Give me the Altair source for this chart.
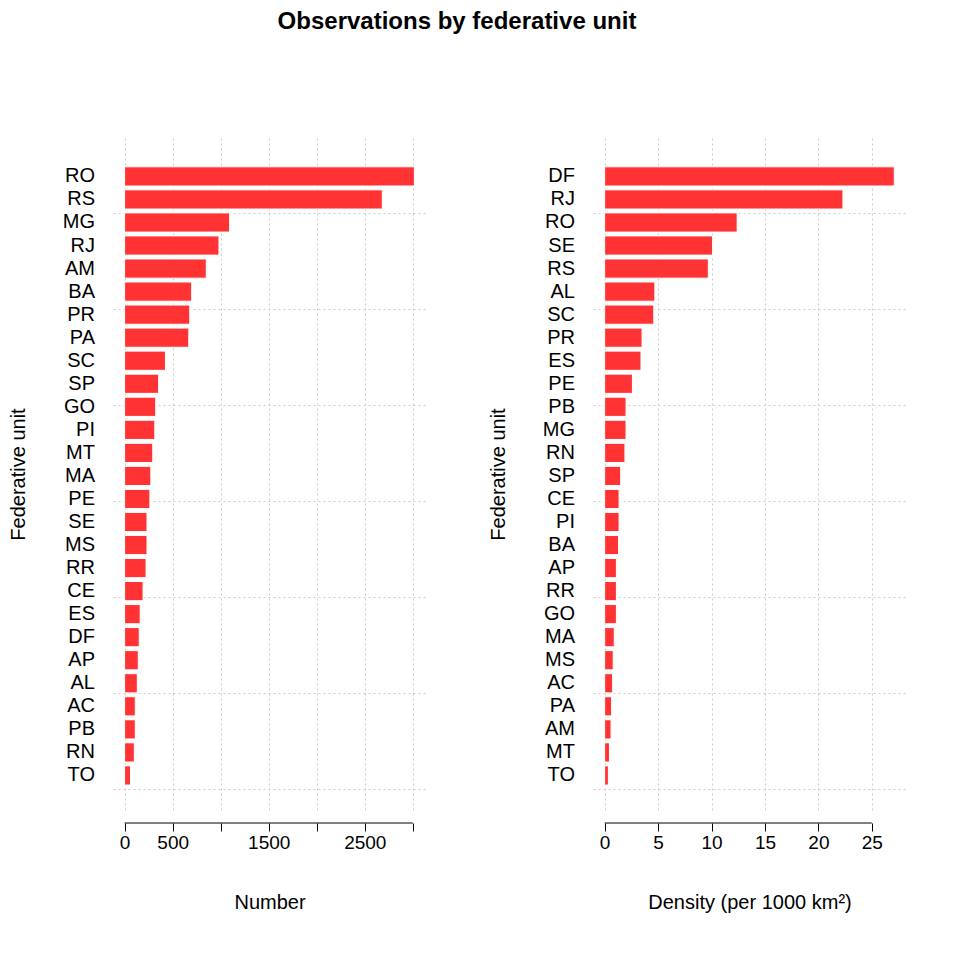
import pandas as pd
import altair as alt

# left panel: number of observations (bottom to top, as barplot draws them)
units_n = ["TO", "RN", "PB", "AC", "AL", "AP", "DF", "ES", "CE", "RR", "MS", "SE", "PE", "MA",
           "MT", "PI", "GO", "SP", "SC", "PA", "PR", "BA", "AM", "RJ", "MG", "RS", "RO"]
number = [61, 101, 111, 111, 132, 142, 152, 162, 192, 223, 233, 233, 263, 273,
          293, 314, 324, 354, 425, 668, 678, 698, 850, 982, 1093, 2682, 3016]

# right panel: density per 1000 km2
units_d = ["TO", "MT", "AM", "PA", "AC", "MS", "MA", "GO", "RR", "AP", "BA", "PI", "CE", "SP",
           "RN", "MG", "PB", "PE", "ES", "PR", "SC", "AL", "RS", "SE", "RO", "RJ", "DF"]
density = [0.35, 0.45, 0.6, 0.65, 0.75, 0.8, 0.9, 1.1, 1.1, 1.1, 1.3, 1.35, 1.35, 1.5,
           1.9, 2.0, 2.0, 2.6, 3.4, 3.5, 4.6, 4.7, 9.7, 10.1, 12.4, 22.3, 27.1]

FONT = "Liberation Sans"
W, H = 313, 672


def panel(units, values, xdom, ticks, shown, xtitle):
    df = pd.DataFrame({"unit": units, "value": values})
    df["pos"] = [0.7 + 1.2 * i for i in range(len(df))]
    df["lo"] = df["pos"] - 0.5
    df["hi"] = df["pos"] + 0.5
    df["zero"] = 0
    yscale = alt.Scale(domain=[-1.1, 33.9], nice=False, zero=False)
    xscale = alt.Scale(domain=xdom, nice=False, zero=False)
    hidden = " || ".join(f"datum.value == {t}" for t in ticks if t not in shown) or "false"
    base = alt.Chart(df)
    bars = base.mark_bar(color="#FF3333", stroke="white", strokeWidth=1).encode(
        x=alt.X("value:Q", scale=xscale, title=xtitle,
                axis=alt.Axis(values=ticks, grid=True, gridDash=[2, 3], gridColor="#cccccc",
                              domain=False, tickColor="black", tickSize=8, offset=13,
                              format="d",
                              labelExpr=f"({hidden}) ? '' : datum.label",
                              labelFontSize=19, titleFontSize=20, titlePadding=40,
                              labelColor="black", titleColor="black", titleFontWeight="normal",
                              labelFont=FONT, titleFont=FONT)),
        x2="zero:Q",
        y=alt.Y("lo:Q", scale=yscale, title="Federative unit",
                axis=alt.Axis(values=[0, 5, 10, 15, 20, 25, 30], grid=True, gridDash=[2, 3],
                              gridColor="#cccccc", labels=False, ticks=False, domain=False,
                              titleFontSize=20, titlePadding=85, titleColor="black",
                              titleFontWeight="normal", titleFont=FONT)),
        y2="hi:Q",
    )
    labels = base.mark_text(align="right", baseline="middle", fontSize=20, font=FONT,
                            color="black", dx=-18).encode(
        x=alt.value(0), y=alt.Y("pos:Q", scale=yscale), text="unit:N")
    axis_line = alt.Chart(pd.DataFrame({"a": [ticks[0]], "b": [ticks[-1]]})).mark_rule(
        color="black").encode(x=alt.X("a:Q", scale=xscale), x2="b:Q", y=alt.value(H + 13))
    return alt.layer(bars, labels, axis_line).properties(width=W, height=H)


left = panel(units_n, number, [-121, 3137], [0, 500, 1000, 1500, 2000, 2500, 3000],
             [0, 500, 1500, 2500], "Number")
right = panel(units_d, density, [-1.09, 28.2], [0, 5, 10, 15, 20, 25],
              [0, 5, 10, 15, 20, 25], "Density (per 1000 km²)")

chart = alt.hconcat(left, right, spacing=62).properties(
    title=alt.TitleParams("Observations by federative unit", fontSize=24, font=FONT,
                          fontWeight="bold", anchor="middle", offset=104),
    padding={"left": 0, "top": 2, "right": 5, "bottom": 5},
).configure_view(stroke=None)

chart.save("out.html", embed_options={"renderer": "svg", "actions": False})
